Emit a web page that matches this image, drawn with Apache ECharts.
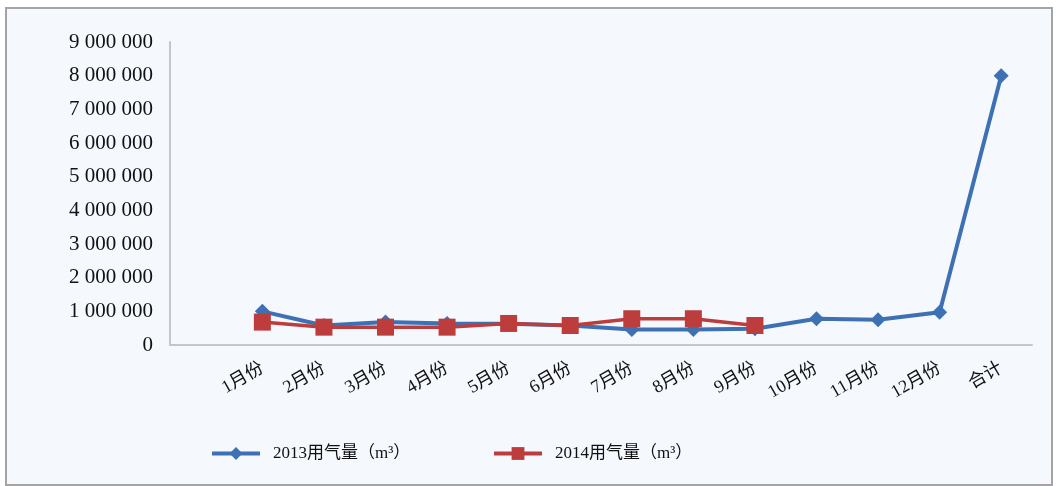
<!DOCTYPE html>
<html>
<head>
<meta charset="utf-8">
<script src="https://cdn.jsdelivr.net/npm/echarts@6/dist/echarts.min.js"></script>
<style>
  html, body { margin: 0; padding: 0; background: #ffffff; }
  #chart { width: 1056px; height: 486px; }
</style>
</head>
<body>
<div id="chart"></div>
<script>
// Monthly gas consumption, 2013 vs 2014 (m³)
const months = ['1月份', '2月份', '3月份', '4月份', '5月份', '6月份', '7月份', '8月份', '9月份', '10月份', '11月份', '12月份', '合计'];
const gas2013 = [1000000, 580000, 680000, 640000, 630000, 580000, 460000, 460000, 480000, 780000, 750000, 970000, 8000000];
const gas2014 = [680000, 530000, 530000, 530000, 640000, 580000, 780000, 780000, 580000, null, null, null, null];
const yTicks = [0, 1000000, 2000000, 3000000, 4000000, 5000000, 6000000, 7000000, 8000000, 9000000];

const name2013 = '2013用气量（m³）';
const name2014 = '2014用气量（m³）';
const blue = '#3e70b4';
const red = '#bd3c3c';
const fontFamily = '"Liberation Serif", "Noto Sans CJK SC", serif';

// A blank leading slot leaves the gap between the value axis and the first month
const xCats = [''].concat(months);
const pad = arr => [null].concat(arr);

const fmt = v => String(v).replace(/\B(?=(\d{3})+(?!\d))/g, ' ');

const legendBase = {
  top: 440,
  itemWidth: 48,
  itemHeight: 16,
  lineStyle: { width: 4 },
  textStyle: { color: '#111', fontSize: 17, fontFamily: fontFamily, padding: [0, 0, 0, 8] }
};

const chart = echarts.init(document.getElementById('chart'), null, { renderer: 'canvas' });
chart.setOption({
  backgroundColor: '#ffffff',
  animation: false,
  graphic: [{
    type: 'rect',
    shape: { x: 6, y: 8, width: 1046, height: 477 },
    style: { fill: '#f5f9fd', stroke: '#a4a4a4', lineWidth: 2 },
    z: -10
  }],
  grid: { left: 170, right: 24, top: 42, bottom: 141 },
  xAxis: {
    type: 'category',
    data: xCats,
    boundaryGap: true,
    axisLine: { show: true, lineStyle: { color: '#c4c7ca', width: 2 } },
    axisTick: { show: false },
    axisLabel: {
      rotate: 30,
      interval: 0,
      margin: 22,
      color: '#111',
      fontSize: 18,
      fontFamily: fontFamily
    },
    splitLine: { show: false }
  },
  yAxis: {
    type: 'value',
    min: yTicks[0],
    max: yTicks[yTicks.length - 1],
    interval: yTicks[1] - yTicks[0],
    axisLine: { show: true, lineStyle: { color: '#c4c7ca', width: 2 } },
    axisTick: { show: false },
    splitLine: { show: false },
    axisLabel: {
      margin: 17,
      color: '#111',
      fontSize: 21,
      fontFamily: fontFamily,
      formatter: fmt
    }
  },
  legend: [
    Object.assign({ data: [name2013], left: 205 }, legendBase),
    Object.assign({ data: [name2014], left: 487 }, legendBase)
  ],
  series: [{
    name: name2013,
    type: 'line',
    data: pad(gas2013),
    symbol: 'diamond',
    symbolSize: 15,
    lineStyle: { color: blue, width: 4 },
    itemStyle: { color: blue },
    z: 2
  }, {
    name: name2014,
    type: 'line',
    data: pad(gas2014),
    symbol: 'rect',
    symbolSize: 17,
    lineStyle: { color: red, width: 3.5 },
    itemStyle: { color: red },
    z: 3
  }]
});
</script>
</body>
</html>
